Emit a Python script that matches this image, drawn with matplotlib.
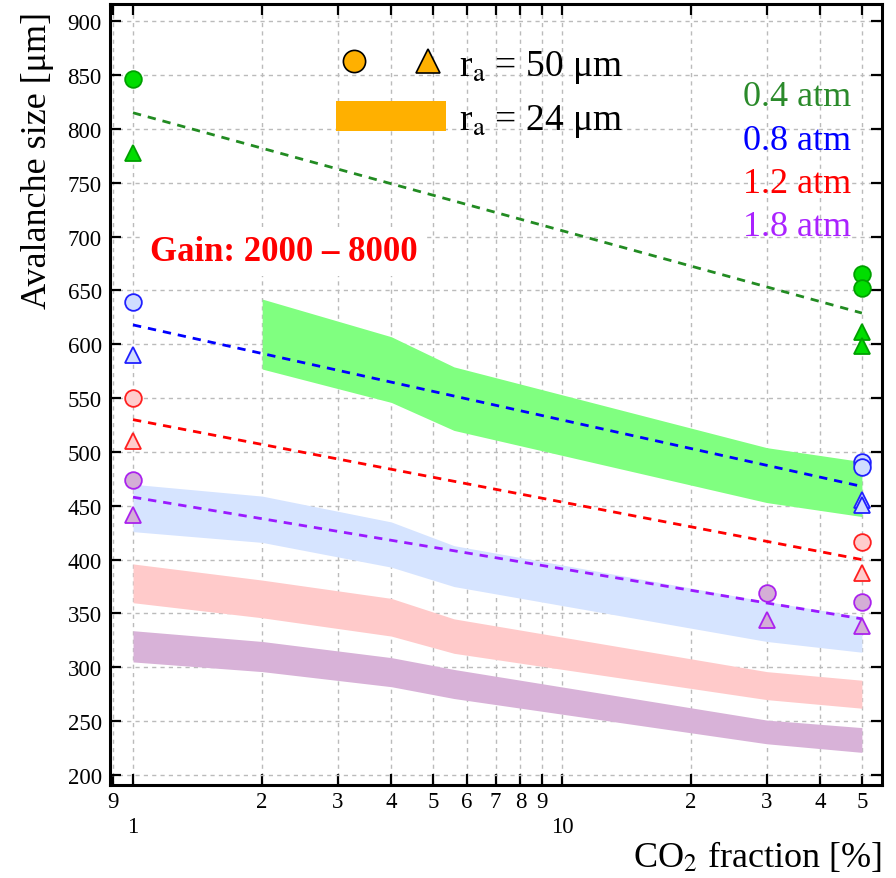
import matplotlib
matplotlib.use("Agg")
from matplotlib import pyplot as plt
from matplotlib.lines import Line2D
from matplotlib.patches import Patch
from matplotlib.legend_handler import HandlerTuple
from matplotlib.ticker import FixedLocator, FixedFormatter

plt.rcParams['font.family'] = ['Liberation Serif', 'DejaVu Serif']
plt.rcParams['mathtext.fontset'] = 'stix'

# r_a = 50 um measurements (circles / triangles)
green_circ_x = [1, 50, 50]
green_circ_y = [846, 665, 652]
green_tri_x = [1, 50, 50]
green_tri_y = [778, 611, 598]
blue_circ_x = [1, 50, 50]
blue_circ_y = [639, 491, 486]
blue_tri_x = [1, 50, 50]
blue_tri_y = [590, 455, 451]
red_circ_x = [1, 50]
red_circ_y = [550, 416]
red_tri_x = [1, 50]
red_tri_y = [510, 388]
purple_circ_x = [1, 30, 50]
purple_circ_y = [474, 369, 361]
purple_tri_x = [1, 30, 50]
purple_tri_y = [441, 344, 338]

# dashed fit lines
fit_x = [1, 50]
green_fit = [815, 629]
blue_fit = [618, 468]
red_fit = [530, 400]
purple_fit = [458, 345]

# r_a = 24 um simulation bands (low / high)
band_x = [1, 2, 4, 5.6, 30, 50]
green_band_x = [2, 4, 5.6, 30, 50]
green_lo = [577, 546, 520, 453, 440]
green_hi = [642, 607, 579, 504, 491]
blue_lo = [426, 416, 393, 375, 324, 314]
blue_hi = [470, 459, 435, 413, 361, 347]
red_lo = [360, 346, 329, 313, 270, 262]
red_hi = [396, 381, 364, 345, 296, 288]
purple_lo = [305, 296, 282, 271, 229, 221]
purple_hi = [334, 324, 309, 298, 251, 244]

minor_ticks = [0.9, 2, 3, 4, 5, 6, 7, 8, 9, 20, 30, 40, 50]
minor_labels = ['9', '2', '3', '4', '5', '6', '7', '8', '9', '2', '3', '4', '5']
major_ticks = [1, 10]
major_labels = ['1', '10']
pressure_labels = ['0.4 atm', '0.8 atm', '1.2 atm', '1.8 atm']
pressure_colors = ['#2a8a2a', '#0000ff', '#ff0000', '#aa22ff']


def main():
    fig = plt.figure(figsize=(8.96, 8.79), dpi=100)
    ax = fig.add_axes([0.1228, 0.1058, 0.8616, 0.8885])
    ax.set_xscale('log')
    ax.set_axisbelow(True)

    # bands
    ax.fill_between(green_band_x, green_lo, green_hi, color='#80ff80', lw=0, zorder=2)
    ax.fill_between(band_x, blue_lo, blue_hi, color='#d6e4ff', lw=0, zorder=2)
    ax.fill_between(band_x, red_lo, red_hi, color='#ffcaca', lw=0, zorder=2)
    ax.fill_between(band_x, purple_lo, purple_hi, color='#d8b2d8', lw=0, zorder=2)

    # fit lines
    dash = (0, (3, 2.5))
    ax.plot(fit_x, green_fit, ls=dash, color='#228b22', lw=2, zorder=3)
    ax.plot(fit_x, blue_fit, ls=dash, color='#0000ff', lw=2, zorder=3)
    ax.plot(fit_x, red_fit, ls=dash, color='#ff0000', lw=2, zorder=3)
    ax.plot(fit_x, purple_fit, ls=dash, color='#9a1aff', lw=2, zorder=3)

    # markers
    ms = 12
    mew = 1.3
    series = [
        (green_circ_x, green_circ_y, green_tri_x, green_tri_y, '#00dd00', '#00a000'),
        (blue_circ_x, blue_circ_y, blue_tri_x, blue_tri_y, '#d0ddff', '#2020ff'),
        (red_circ_x, red_circ_y, red_tri_x, red_tri_y, '#ffcccc', '#ff2020'),
        (purple_circ_x, purple_circ_y, purple_tri_x, purple_tri_y, '#d4aed6', '#aa22ee'),
    ]
    for cx, cy, tx, ty, fc, ec in series:
        ax.plot(cx, cy, 'o', ms=ms, mfc=fc, mec=ec, mew=mew, zorder=4)
        ax.plot(tx, ty, '^', ms=ms, mfc=fc, mec=ec, mew=mew, zorder=4)

    ax.set_xlim(0.884, 55.7)
    ax.set_ylim(190.7, 916)

    # ticks
    ax.xaxis.set_major_locator(FixedLocator(major_ticks))
    ax.xaxis.set_major_formatter(FixedFormatter(major_labels))
    ax.xaxis.set_minor_locator(FixedLocator(minor_ticks))
    ax.xaxis.set_minor_formatter(FixedFormatter(minor_labels))
    ax.set_yticks(range(200, 901, 50))
    ax.tick_params(which='both', direction='in', top=True, right=True,
                   length=8, width=1.6, labelsize=16.5)
    ax.tick_params(axis='x', which='minor', pad=4)
    ax.tick_params(axis='x', which='major', pad=22)
    ax.tick_params(axis='y', pad=6)
    for s in ax.spines.values():
        s.set_linewidth(2.2)

    ax.grid(True, which='both', color='#bbbbbb', ls=(0, (3, 3)), lw=1)

    ax.set_xlabel(r'CO$_2$ fraction [%]', fontsize=26, loc='right', labelpad=2)
    ax.set_ylabel('Avalanche size [μm]', fontsize=26, loc='top')
    ax.yaxis.set_label_coords(-0.072, 0.991)

    # legend
    h1 = (Line2D([], [], ls='none', marker='o', ms=16, mfc='#ffb000', mec='black', mew=1.2),
          Line2D([], [], ls='none', marker='^', ms=17, mfc='#ffb000', mec='black', mew=1.2))
    h2 = Patch(facecolor='#ffb000', edgecolor='none')
    ax.legend([h1, h2], [r'r$_{\mathrm{a}}$ = 50 μm', r'r$_{\mathrm{a}}$ = 24 μm'],
              handler_map={tuple: HandlerTuple(ndivide=None, pad=1.0)},
              loc='upper left', bbox_to_anchor=(0.2927, 0.945), frameon=False,
              borderpad=0, borderaxespad=0,
              fontsize=27, handlelength=2.93, handleheight=0.85, handletextpad=0.35,
              labelspacing=0.42)

    for i, (lab, col) in enumerate(zip(pressure_labels, pressure_colors)):
        ax.text(0.96, 0.881 - i * 0.0555, lab, color=col, fontsize=26,
                ha='right', va='center', transform=ax.transAxes)

    ax.text(0.052, 0.683, 'Gain: 2000 – 8000', color='#ff0000', fontsize=25,
            fontweight='bold', ha='left', va='center', transform=ax.transAxes,
            bbox=dict(facecolor='white', edgecolor='none', pad=6), zorder=5)

    fig.savefig('out.png', dpi=100)


if __name__ == '__main__':
    main()
